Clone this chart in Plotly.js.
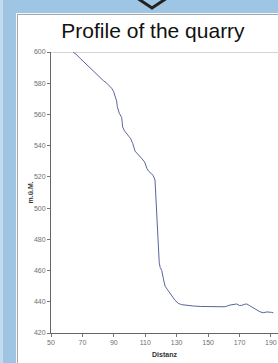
<!DOCTYPE html>
<html>
<head>
<meta charset="utf-8">
<script src="https://cdn.plot.ly/plotly-3.0.1.min.js"></script>
<style>
  html, body { margin: 0; padding: 0; width: 278px; height: 363px; overflow: hidden; background: #9fc5e4; }
  #strip { position: absolute; left: 0; top: 0; width: 3px; height: 363px; background: #c4dbee; }
  #panel { position: absolute; left: 16px; top: 13px; width: 270px; height: 360px; background: #ffffff;
           border-top: 1px solid #f4f8fb; border-left: 1px solid #f4f8fb; box-sizing: border-box; }
  #panelInner { position: absolute; left: 17px; top: 14px; width: 270px; height: 360px;
           border-top: 1px solid #a8a8a8; border-left: 1px solid #a8a8a8; box-sizing: border-box; }
  #chev { position: absolute; left: 0; top: 0; }
  #chart { position: absolute; left: 0; top: 0; width: 278px; height: 363px; }
</style>
</head>
<body>
<div id="strip"></div>
<div id="panel"></div>
<div id="panelInner"></div>
<svg id="chev" width="278" height="20"><polyline points="137,-2 152,8 167,-2" fill="none" stroke="#222" stroke-width="3"/></svg>
<div id="chart"></div>
<script>
const distanz = [64, 66, 68.5, 71.5, 74.8, 78, 81.2, 83.5, 85.5, 87.5, 88.6, 89.8, 90.7, 91.3, 91.8, 92.2, 92.8, 93.5, 95.0, 95.6, 96.8, 98.2, 99.5, 100.7, 102.0, 103.5, 105, 106.6, 108, 109.6, 111, 112.3, 113.5, 115, 116.2, 116.8, 117.7, 118.5, 118.9, 119.5, 120.5, 121.5, 122.6, 124, 125.7, 127.3, 128.9, 131, 133, 135.3, 138, 140.6, 145, 151, 156, 160.8, 163.9, 166, 168.2, 170, 171.4, 173, 174.6, 176.3, 177.8, 179.9, 181.5, 183, 185.1, 187.5, 190.4, 191.5];
const hoehe = [600, 598.5, 596, 593, 589.6, 586.4, 583.2, 581.5, 580, 578.3, 576.8, 574.8, 572.5, 570.5, 568.5, 565, 562, 560.7, 558, 552, 549.5, 548, 546, 544.5, 541.5, 536.5, 535, 533.5, 531.5, 529.5, 525.5, 523.5, 522.3, 521, 518, 505, 484, 472, 465, 462, 460, 455, 450, 448, 445.4, 443, 441, 439, 438.2, 437.9, 437.5, 437.3, 437, 436.8, 436.5, 436.8, 437.9, 438.1, 438.6, 437.6, 437.7, 438.3, 438.6, 437.6, 436.8, 435.2, 434.5, 433.6, 433, 433.5, 433.2, 433];
const xTicks = [50, 70, 90, 110, 130, 150, 170, 190];
const yTicks = [420, 440, 460, 480, 500, 520, 540, 560, 580, 600];

const trace = {
  x: distanz, y: hoehe, type: 'scatter', mode: 'lines',
  line: { color: '#5a6598', width: 1 }, hoverinfo: 'skip'
};
const tickFont = { family: 'Liberation Sans, Arial, sans-serif', size: 7, color: '#707070' };
const layout = {
  width: 278, height: 363,
  margin: { l: 51, r: 0, t: 52, b: 30, pad: 0 },
  paper_bgcolor: 'rgba(0,0,0,0)', plot_bgcolor: 'rgba(0,0,0,0)',
  showlegend: false,
  title: {
    text: 'Profile of the quarry',
    font: { family: 'Liberation Sans, Arial, sans-serif', size: 21, color: '#111' },
    x: 153 / 278, xref: 'container', xanchor: 'center',
    y: 1 - 31 / 363, yref: 'container', yanchor: 'middle'
  },
  xaxis: {
    range: [50, 194.5], tickvals: xTicks, ticktext: xTicks.map(String),
    ticks: 'outside', ticklen: 3, tickcolor: '#777', tickwidth: 1,
    showline: true, linecolor: '#666', linewidth: 1,
    showgrid: false, zeroline: false, tickfont: tickFont,
    title: { text: '<b>Distanz</b>', font: { family: 'Liberation Sans, Arial, sans-serif', size: 7, color: '#333' }, standoff: 6 }
  },
  yaxis: {
    range: [420, 600], tickvals: yTicks, ticktext: yTicks.map(String),
    ticks: 'outside', ticklen: 3, tickcolor: '#777', tickwidth: 1,
    showline: true, linecolor: '#666', linewidth: 1,
    showgrid: false, zeroline: false, tickfont: tickFont
  },
  annotations: [
    { text: '<b>m.ü.M.</b>', xref: 'paper', yref: 'paper', x: (30 - 51) / 227, y: 0.5,
      xanchor: 'center', yanchor: 'middle', textangle: -90, showarrow: false,
      font: { family: 'Liberation Sans, Arial, sans-serif', size: 7, color: '#333' } }
  ],
  shapes: [
    { type: 'line', xref: 'paper', yref: 'y', x0: 0, x1: 1, y0: 600, y1: 600, line: { color: '#aaa', width: 1 } }
  ]
};
Plotly.newPlot('chart', [trace], layout, { staticPlot: true, displayModeBar: false });
</script>
</body>
</html>
